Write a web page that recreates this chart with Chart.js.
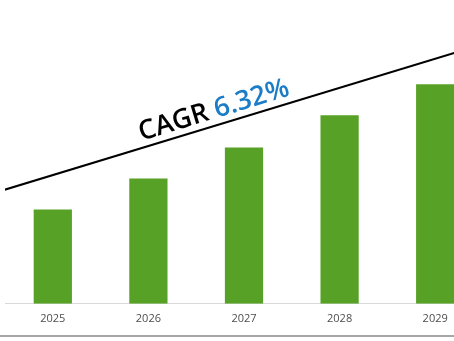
<!DOCTYPE html>
<html>
<head>
<meta charset="utf-8">
<script src="https://cdn.jsdelivr.net/npm/chart.js@4.4.0/dist/chart.umd.min.js"></script>
<style>
  html, body { margin: 0; padding: 0; background: #fff; overflow: hidden; }
  #frame { position: relative; width: 454px; height: 341px; overflow: hidden; }
  #wrap { position: absolute; left: 0; top: 0; width: 488px; height: 341px; }
  #shadow { position: absolute; left: 0; top: 335px; width: 454px; height: 2px; background: #a6a6a6; }
</style>
</head>
<body>
<div id="frame">
  <div id="wrap"><canvas id="cagrChart"></canvas></div>
  <div id="shadow"></div>
</div>
<script>
// Données du graphique
const years = ['2025', '2026', '2027', '2028', '2029'];
const marketValues = [94, 125, 156, 188, 219];
const trendX = [-0.6, 4.5];
const trendY = [111, 259];
const cagrPrefix = 'CAGR ';
const cagrValue = '6.32%';

// Texte CAGR posé le long de la ligne de tendance
const cagrLabel = {
    id: 'cagrLabel',
    afterDatasetsDraw(chart) {
        const { ctx } = chart;
        const xs = chart.scales.xt;
        const ys = chart.scales.y;
        const x0 = xs.getPixelForValue(trendX[0]), y0 = ys.getPixelForValue(trendY[0]);
        const x1 = xs.getPixelForValue(trendX[1]), y1 = ys.getPixelForValue(trendY[1]);
        const angle = Math.atan2(y1 - y0, x1 - x0);
        const at = 1.73;
        const t = (at - trendX[0]) / (trendX[1] - trendX[0]);
        const px = x0 + (x1 - x0) * t;
        const py = y0 + (y1 - y0) * t;

        ctx.save();
        ctx.translate(px, py);
        ctx.rotate(angle);
        ctx.font = '600 27px "Open Sans"';
        ctx.textBaseline = 'alphabetic';
        const w1 = ctx.measureText(cagrPrefix).width;
        const w2 = ctx.measureText(cagrValue).width;
        const start = -(w1 + w2) / 2;
        ctx.fillStyle = '#000000';
        ctx.fillText(cagrPrefix, start, -7);
        ctx.fillStyle = '#1b7cc8';
        ctx.fillText(cagrValue, start + w1, -7);
        ctx.restore();
    }
};

const ctx = document.getElementById('cagrChart').getContext('2d');

const myChart = new Chart(ctx, {
    data: {
        labels: years,
        datasets: [
            {
                type: 'bar',
                data: marketValues,
                backgroundColor: '#57a226',
                barPercentage: 0.4,
                categoryPercentage: 1.0,
                grouped: false,
                xAxisID: 'x',
                order: 2
            },
            {
                type: 'line',
                data: trendX.map((x, i) => ({ x: x, y: trendY[i] })),
                borderColor: '#000000',
                borderWidth: 2,
                pointRadius: 0,
                xAxisID: 'xt',
                order: 1
            }
        ]
    },
    options: {
        responsive: true,
        maintainAspectRatio: false,
        animation: false,
        layout: {
            padding: { left: 5, right: 5, top: 0, bottom: 8 }
        },
        plugins: {
            legend: { display: false },
            tooltip: { enabled: false }
        },
        scales: {
            x: {
                type: 'category',
                offset: true,
                grid: { display: false, drawTicks: false, tickLength: 0 },
                border: { display: true, color: '#d9d9d9', width: 1 },
                ticks: {
                    color: '#4d4d4d',
                    padding: 8,
                    font: { family: '"Open Sans"', size: 11 }
                }
            },
            xt: {
                type: 'linear',
                display: false,
                min: -0.5,
                max: 4.5
            },
            y: {
                display: false,
                min: 0,
                max: 303
            }
        }
    },
    plugins: [cagrLabel]
});
</script>
</body>
</html>
